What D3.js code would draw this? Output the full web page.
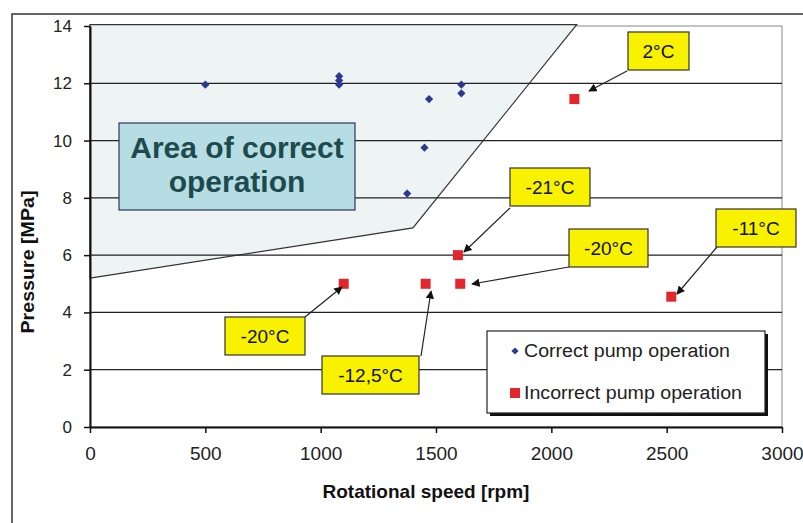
<!DOCTYPE html>
<html>
<head>
<meta charset="utf-8">
<script src="https://cdn.jsdelivr.net/npm/d3@7"></script>
<style>
  body { margin: 0; background: #fff; }
  svg { display: block; font-family: "Liberation Sans", Arial, sans-serif; }
</style>
</head>
<body>
<svg id="chart" width="803" height="523"></svg>
<script>
// data
const correctSpeed = [500, 1080, 1080, 1080, 1470, 1610, 1610, 1450, 1375];
const correctPressure = [11.95, 12.25, 12.1, 11.95, 11.45, 11.95, 11.65, 9.75, 8.15];

const incorrectSpeed = [2100, 1595, 1100, 1455, 1605, 2520];
const incorrectPressure = [11.45, 6.0, 5.0, 5.0, 5.0, 4.55];
const incorrectLabels = ["2°C", "-21°C", "-20°C", "-12,5°C", "-20°C", "-11°C"];

// corners of the correct-operation area (rpm, MPa)
const areaSpeed = [0, 1400, 2110, 0];
const areaPressure = [5.2, 6.95, 14.05, 14.05];

const xTicks = [0, 500, 1000, 1500, 2000, 2500, 3000];
const yTicks = [0, 2, 4, 6, 8, 10, 12, 14];

const svg = d3.select("#chart");

const PLOT_LEFT = 90, PLOT_RIGHT = 782, PLOT_TOP = 26, PLOT_BOTTOM = 427;
const x = d3.scaleLinear([0, 3000], [PLOT_LEFT, PLOT_RIGHT]);
const y = d3.scaleLinear([0, 14], [PLOT_BOTTOM, PLOT_TOP]);

// outer frame (runs off the picture on the right and bottom)
svg.append("rect")
  .attr("x", 12).attr("y", 14).attr("width", 900).attr("height", 600)
  .attr("fill", "none").attr("stroke", "#333").attr("stroke-width", 1.5);

// plot border
svg.append("rect")
  .attr("x", PLOT_LEFT).attr("y", PLOT_TOP)
  .attr("width", PLOT_RIGHT - PLOT_LEFT).attr("height", PLOT_BOTTOM - PLOT_TOP)
  .attr("fill", "none").attr("stroke", "#888").attr("stroke-width", 1);

// area polygon
const pts = areaSpeed.map((s, i) => [x(s), y(areaPressure[i])]);
svg.append("path")
  .attr("d", d3.line()(pts) + "Z")
  .attr("fill", "#eef3f4").attr("stroke", "#333").attr("stroke-width", 1.2);

// gridlines
svg.append("g").selectAll("line")
  .data(yTicks.filter(d => d > 0 && d < 14))
  .enter().append("line")
  .attr("x1", PLOT_LEFT).attr("x2", PLOT_RIGHT)
  .attr("y1", d => y(d)).attr("y2", d => y(d))
  .attr("stroke", "#222").attr("stroke-width", 1.2);

// axes
const xAxis = svg.append("g")
  .attr("transform", `translate(0,${PLOT_BOTTOM})`)
  .call(d3.axisBottom(x).tickValues(xTicks).tickFormat(d3.format("d"))
    .tickSize(6).tickPadding(14).tickSizeOuter(0));
const yAxis = svg.append("g")
  .attr("transform", `translate(${PLOT_LEFT},0)`)
  .call(d3.axisLeft(y).tickValues(yTicks).tickFormat(d3.format("d"))
    .tickSize(6).tickPadding(12).tickSizeOuter(0));
[xAxis, yAxis].forEach(a => {
  a.attr("font-family", null).attr("font-size", null);
  a.select(".domain").attr("stroke", "#111").attr("stroke-width", 2);
  a.selectAll(".tick line").attr("stroke", "#111").attr("stroke-width", 1.5);
  a.selectAll(".tick text").attr("fill", "#222");
});
xAxis.selectAll(".tick text").attr("font-size", 19);
yAxis.selectAll(".tick text").attr("font-size", 17);

// axis titles
svg.append("text")
  .attr("x", 426).attr("y", 498)
  .attr("text-anchor", "middle").attr("font-weight", "bold").attr("font-size", 19)
  .attr("fill", "#111")
  .text("Rotational speed [rpm]");
svg.append("text")
  .attr("transform", "translate(34,262) rotate(-90)")
  .attr("text-anchor", "middle").attr("font-weight", "bold").attr("font-size", 18)
  .attr("textLength", 143).attr("lengthAdjust", "spacingAndGlyphs")
  .attr("fill", "#111")
  .text("Pressure [MPa]");

// "Area of correct operation" box
svg.append("rect")
  .attr("x", 119).attr("y", 123).attr("width", 236).attr("height", 87)
  .attr("fill", "#b6dde3").attr("stroke", "#335").attr("stroke-width", 1.2);
svg.append("text")
  .attr("text-anchor", "middle")
  .attr("font-weight", "bold").attr("font-size", 30).attr("fill", "#1d4b4d")
  .selectAll("tspan").data(["Area of correct", "operation"]).enter()
  .append("tspan").attr("x", 237).attr("y", (d, i) => 158 + i * 34).text(d => d);

// markers
const diamond = d3.symbol().type(d3.symbolSquare).size(34);
svg.append("g").selectAll("path")
  .data(correctSpeed.map((s, i) => [s, correctPressure[i]]))
  .enter().append("path")
  .attr("d", diamond)
  .attr("transform", d => `translate(${x(d[0])},${y(d[1])}) rotate(45)`)
  .attr("fill", "#2b3a8f");

svg.append("g").selectAll("rect")
  .data(incorrectSpeed.map((s, i) => [s, incorrectPressure[i]]))
  .enter().append("rect")
  .attr("x", d => x(d[0]) - 5).attr("y", d => y(d[1]) - 5)
  .attr("width", 10).attr("height", 10)
  .attr("fill", "#e3262b");

// callouts: box position (left, top, width) and where the arrow leaves the box
const calloutBox = [
  [628, 32, 61], [510, 168, 80], [225, 317, 80], [322, 356, 97], [569, 229, 79], [716, 209, 80]
];
const arrowFrom = [
  [627, 71], [510, 208], [305, 317], [421, 356], [569, 267], [717, 247]
];
const arrowTo = [
  [589, 91], [464, 252], [342, 287], [431, 291], [472, 284], [677, 294]
];

const defs = svg.append("defs");
defs.append("marker")
  .attr("id", "arrow").attr("viewBox", "0 0 10 10")
  .attr("refX", 9).attr("refY", 5)
  .attr("markerWidth", 7).attr("markerHeight", 7)
  .attr("orient", "auto")
  .append("path").attr("d", "M0,0L10,5L0,10Z").attr("fill", "#111");

svg.append("g").selectAll("line")
  .data(arrowFrom).enter().append("line")
  .attr("x1", d => d[0]).attr("y1", d => d[1])
  .attr("x2", (d, i) => arrowTo[i][0]).attr("y2", (d, i) => arrowTo[i][1])
  .attr("stroke", "#222").attr("stroke-width", 1.2)
  .attr("marker-end", "url(#arrow)");

const callouts = svg.append("g").selectAll("g")
  .data(calloutBox).enter().append("g");
callouts.append("rect")
  .attr("x", d => d[0]).attr("y", d => d[1])
  .attr("width", d => d[2]).attr("height", 38)
  .attr("fill", "#f8f200").attr("stroke", "#333").attr("stroke-width", 1.2);
callouts.append("text")
  .attr("x", d => d[0] + d[2] / 2).attr("y", d => d[1] + 26)
  .attr("text-anchor", "middle").attr("font-size", 19).attr("fill", "#111")
  .text((d, i) => incorrectLabels[i]);

// legend
const lg = svg.append("g");
lg.append("rect")
  .attr("x", 490).attr("y", 334).attr("width", 278).attr("height", 82)
  .attr("fill", "#111");
lg.append("rect")
  .attr("x", 487).attr("y", 331).attr("width", 278).attr("height", 82)
  .attr("fill", "#fff").attr("stroke", "#222").attr("stroke-width", 1.2);
lg.append("path")
  .attr("d", d3.symbol().type(d3.symbolSquare).size(26))
  .attr("transform", "translate(515,351) rotate(45)")
  .attr("fill", "#2b3a8f");
lg.append("rect")
  .attr("x", 510).attr("y", 388).attr("width", 10).attr("height", 10)
  .attr("fill", "#e3262b");
lg.append("text").attr("x", 524).attr("y", 357)
  .attr("font-size", 18).attr("textLength", 206).attr("lengthAdjust", "spacingAndGlyphs")
  .attr("fill", "#222").text("Correct pump operation");
lg.append("text").attr("x", 524).attr("y", 399)
  .attr("font-size", 18).attr("textLength", 218).attr("lengthAdjust", "spacingAndGlyphs")
  .attr("fill", "#222").text("Incorrect pump operation");
</script>
</body>
</html>
